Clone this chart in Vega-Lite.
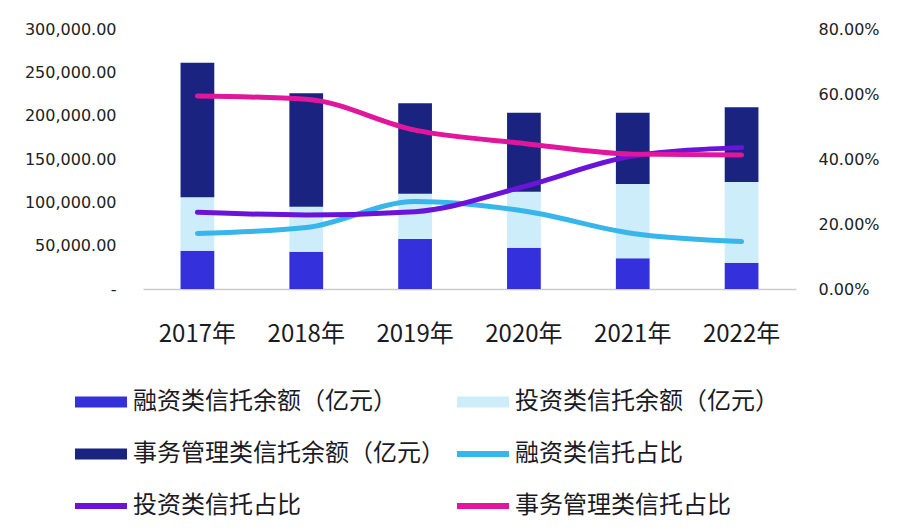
{
  "$schema": "https://vega.github.io/schema/vega-lite/v6.json",
  "width": 653,
  "height": 260,
  "autosize": {"type": "none"},
  "padding": {"left": 143, "top": 29, "right": 112, "bottom": 243},
  "background": "#ffffff",
  "config": {
    "view": {"stroke": null},
    "axis": {"grid": false, "ticks": false}
  },
  "datasets": {
    "bars": [
      {"year": "2017年", "series": "融资类信托余额（亿元）", "k": 1, "value": 44000},
      {"year": "2017年", "series": "投资类信托余额（亿元）", "k": 2, "value": 62000},
      {"year": "2017年", "series": "事务管理类信托余额（亿元）", "k": 3, "value": 155000},
      {"year": "2018年", "series": "融资类信托余额（亿元）", "k": 1, "value": 43000},
      {"year": "2018年", "series": "投资类信托余额（亿元）", "k": 2, "value": 52000},
      {"year": "2018年", "series": "事务管理类信托余额（亿元）", "k": 3, "value": 130800},
      {"year": "2019年", "series": "融资类信托余额（亿元）", "k": 1, "value": 57700},
      {"year": "2019年", "series": "投资类信托余额（亿元）", "k": 2, "value": 52300},
      {"year": "2019年", "series": "事务管理类信托余额（亿元）", "k": 3, "value": 104200},
      {"year": "2020年", "series": "融资类信托余额（亿元）", "k": 1, "value": 47700},
      {"year": "2020年", "series": "投资类信托余额（亿元）", "k": 2, "value": 64600},
      {"year": "2020年", "series": "事务管理类信托余额（亿元）", "k": 3, "value": 91200},
      {"year": "2021年", "series": "融资类信托余额（亿元）", "k": 1, "value": 35400},
      {"year": "2021年", "series": "投资类信托余额（亿元）", "k": 2, "value": 85800},
      {"year": "2021年", "series": "事务管理类信托余额（亿元）", "k": 3, "value": 82300},
      {"year": "2022年", "series": "融资类信托余额（亿元）", "k": 1, "value": 30400},
      {"year": "2022年", "series": "投资类信托余额（亿元）", "k": 2, "value": 93100},
      {"year": "2022年", "series": "事务管理类信托余额（亿元）", "k": 3, "value": 86200}
    ],
    "lines": [
      {"year": "2017年", "series": "融资类信托占比", "pct": 0.171},
      {"year": "2018年", "series": "融资类信托占比", "pct": 0.189},
      {"year": "2019年", "series": "融资类信托占比", "pct": 0.269},
      {"year": "2020年", "series": "融资类信托占比", "pct": 0.240},
      {"year": "2021年", "series": "融资类信托占比", "pct": 0.171},
      {"year": "2022年", "series": "融资类信托占比", "pct": 0.146},
      {"year": "2017年", "series": "投资类信托占比", "pct": 0.236},
      {"year": "2018年", "series": "投资类信托占比", "pct": 0.228},
      {"year": "2019年", "series": "投资类信托占比", "pct": 0.238},
      {"year": "2020年", "series": "投资类信托占比", "pct": 0.315},
      {"year": "2021年", "series": "投资类信托占比", "pct": 0.409},
      {"year": "2022年", "series": "投资类信托占比", "pct": 0.435},
      {"year": "2017年", "series": "事务管理类信托占比", "pct": 0.594},
      {"year": "2018年", "series": "事务管理类信托占比", "pct": 0.584},
      {"year": "2019年", "series": "事务管理类信托占比", "pct": 0.489},
      {"year": "2020年", "series": "事务管理类信托占比", "pct": 0.448},
      {"year": "2021年", "series": "事务管理类信托占比", "pct": 0.415},
      {"year": "2022年", "series": "事务管理类信托占比", "pct": 0.412}
    ]
  },
  "encoding": {
    "x": {
      "field": "year", "type": "nominal", "sort": null, "title": null,
      "scale": {"paddingInner": 0.69, "paddingOuter": 0.345},
      "axis": {
        "labelAngle": 0, "labelFont": "Noto Sans CJK SC", "labelFontSize": 24,
        "labelColor": "#1a1a24", "labelPadding": 33, "domainColor": "#cccccc",
        "domainWidth": 1.5
      }
    }
  },
  "layer": [
    {
      "data": {"name": "bars"},
      "mark": {"type": "bar"},
      "encoding": {
        "y": {
          "field": "value", "type": "quantitative", "aggregate": "sum", "stack": "zero", "title": null,
          "scale": {"domain": [0, 300000], "nice": false},
          "axis": {
            "orient": "left", "domain": false, "values": [0, 50000, 100000, 150000, 200000, 250000, 300000],
            "labelExpr": "datum.value == 0 ? '-' : format(datum.value, ',.2f')",
            "labelFont": "DejaVu Sans", "labelFontSize": 16, "labelColor": "#222222", "labelPadding": 27
          }
        },
        "color": {"field": "series", "type": "nominal"},
        "order": {"field": "k", "type": "quantitative", "sort": "ascending"}
      }
    },
    {
      "data": {"name": "lines"},
      "mark": {"type": "line", "interpolate": "monotone", "strokeWidth": 5, "strokeCap": "round"},
      "encoding": {
        "y": {
          "field": "pct", "type": "quantitative", "title": null,
          "scale": {"domain": [0, 0.8], "nice": false},
          "axis": {
            "orient": "right", "domain": false, "values": [0, 0.2, 0.4, 0.6, 0.8], "format": ".2%",
            "labelFont": "DejaVu Sans", "labelFontSize": 16, "labelColor": "#222222", "labelPadding": 22
          }
        },
        "color": {"field": "series", "type": "nominal"}
      }
    },
    {
      "data": {"name": "lines"},
      "transform": [{"filter": "datum.pct < 0"}],
      "mark": {"type": "point", "filled": true},
      "encoding": {
        "color": {
          "field": "series", "type": "nominal",
          "scale": {
            "domain": ["融资类信托余额（亿元）", "投资类信托余额（亿元）", "事务管理类信托余额（亿元）", "融资类信托占比", "投资类信托占比", "事务管理类信托占比"],
            "range": ["#3431DC", "#CDEDFB", "#1B2381", "#38B5EA", "#6A14D9", "#E0179C"]
          },
          "legend": {
            "title": null, "orient": "none", "legendX": -68, "legendY": 347, "columns": 2, "direction": "horizontal",
            "padding": 0, "symbolSize": 2704, "symbolStrokeWidth": 0, "symbolOpacity": 1,
            "labelFont": "Noto Sans CJK SC", "labelFontSize": 24, "labelColor": "#1a1a24",
            "labelLimit": 0, "labelOffset": 6, "rowPadding": 14, "columnPadding": 12
          }
        },
        "shape": {
          "field": "series", "type": "nominal",
          "scale": {
            "domain": ["融资类信托余额（亿元）", "投资类信托余额（亿元）", "事务管理类信托余额（亿元）", "融资类信托占比", "投资类信托占比", "事务管理类信托占比"],
            "range": ["M-1,-0.21H1V0.21H-1Z", "M-1,-0.21H1V0.21H-1Z", "M-1,-0.21H1V0.21H-1Z", "M-1,-0.12H1V0.12H-1Z", "M-1,-0.12H1V0.12H-1Z", "M-1,-0.12H1V0.12H-1Z"]
          },
          "legend": {
            "title": null, "orient": "none", "legendX": -68, "legendY": 347, "columns": 2, "direction": "horizontal",
            "padding": 0, "symbolSize": 2704, "symbolStrokeWidth": 0, "symbolOpacity": 1,
            "labelFont": "Noto Sans CJK SC", "labelFontSize": 24, "labelColor": "#1a1a24",
            "labelLimit": 0, "labelOffset": 6, "rowPadding": 14, "columnPadding": 12
          }
        }
      }
    }
  ],
  "resolve": {"scale": {"y": "independent"}}
}
